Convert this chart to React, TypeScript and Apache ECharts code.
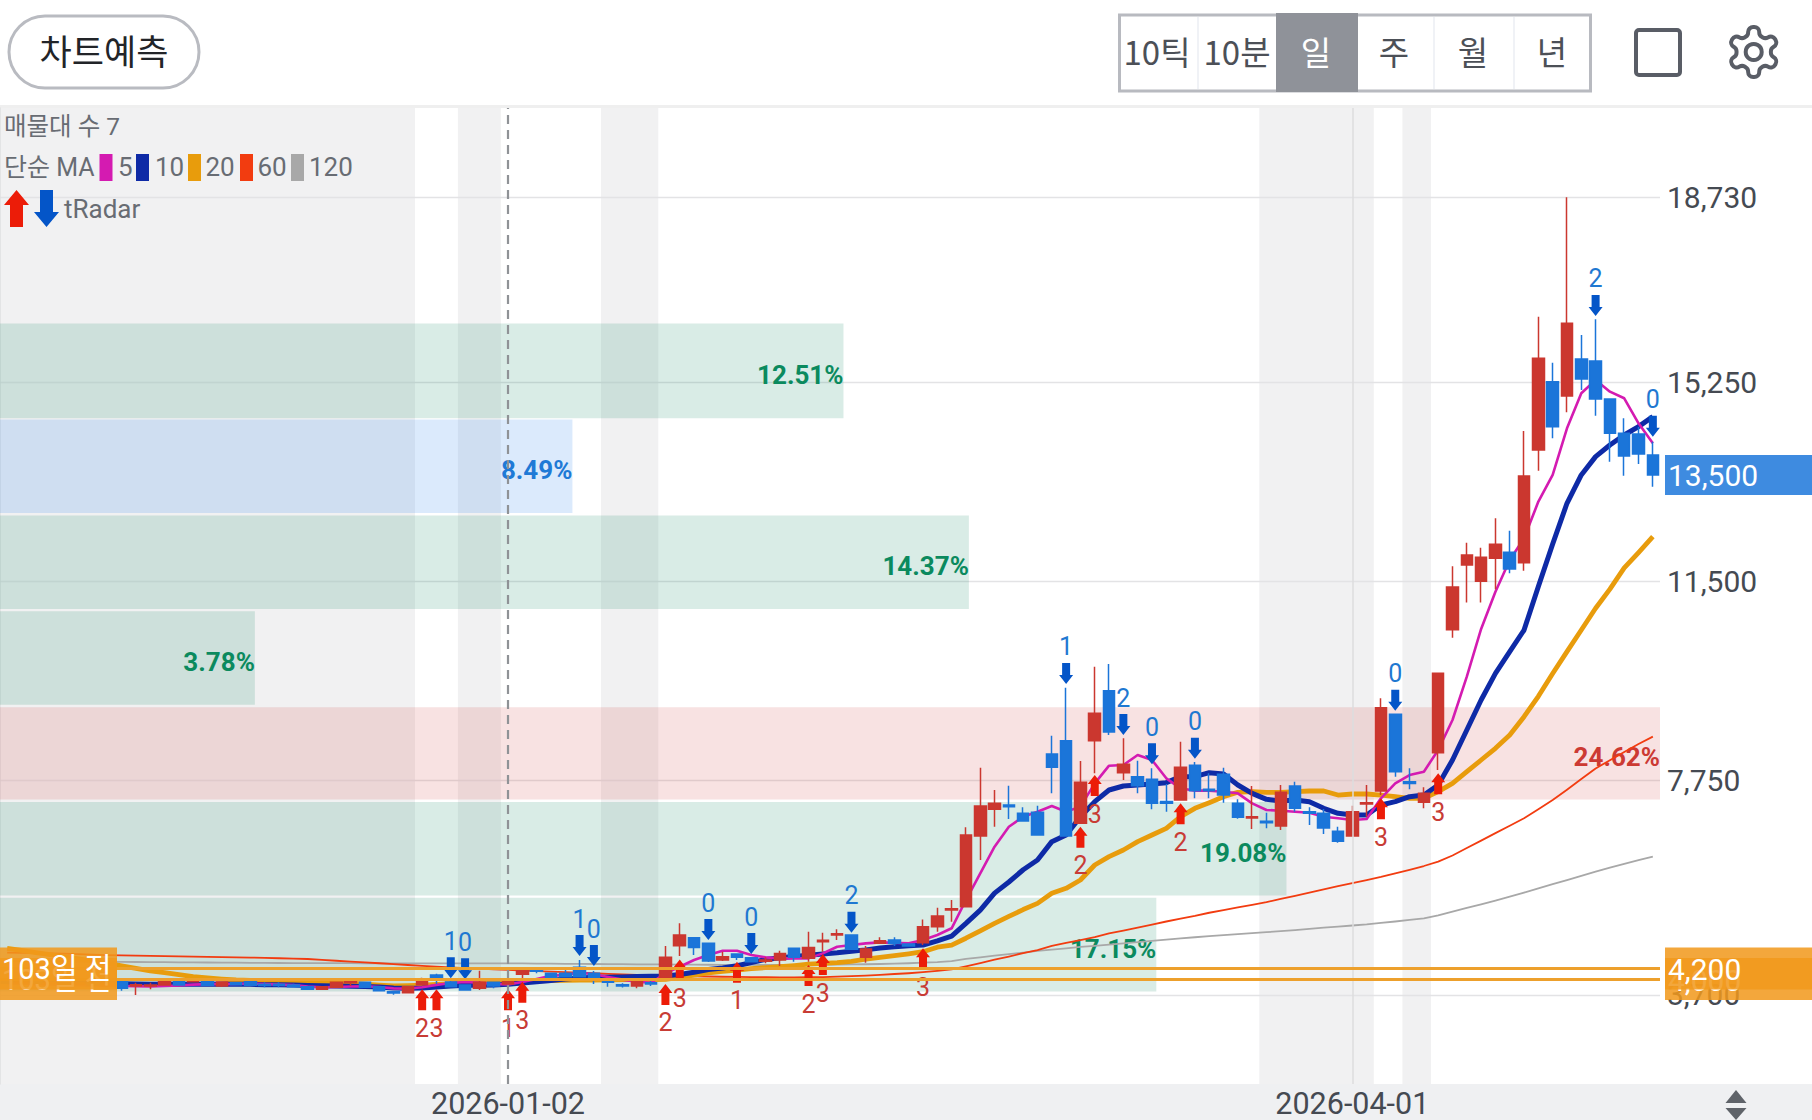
import React, { useEffect, useRef } from "react";
import * as echarts from "echarts";

const categories = [
  "2025-11-11","2025-11-12","2025-11-13","2025-11-14","2025-11-17","2025-11-18","2025-11-19","2025-11-20","2025-11-21","2025-11-24","2025-11-25","2025-11-26","2025-11-27","2025-11-28",
  "2025-12-01","2025-12-02","2025-12-03","2025-12-04","2025-12-05","2025-12-08","2025-12-09","2025-12-10","2025-12-11","2025-12-12","2025-12-15","2025-12-16","2025-12-17","2025-12-18","2025-12-19","2025-12-22","2025-12-23","2025-12-24","2025-12-26","2025-12-29","2025-12-30",
  "2026-01-02","2026-01-05","2026-01-06","2026-01-07","2026-01-08","2026-01-09","2026-01-12","2026-01-13","2026-01-14","2026-01-15","2026-01-16","2026-01-19","2026-01-20","2026-01-21","2026-01-22","2026-01-23","2026-01-26","2026-01-27","2026-01-28","2026-01-29","2026-01-30",
  "2026-02-02","2026-02-03","2026-02-04","2026-02-05","2026-02-06","2026-02-09","2026-02-10","2026-02-11","2026-02-12","2026-02-13","2026-02-19","2026-02-20","2026-02-23","2026-02-24","2026-02-25","2026-02-26","2026-02-27",
  "2026-03-03","2026-03-04","2026-03-05","2026-03-06","2026-03-09","2026-03-10","2026-03-11","2026-03-12","2026-03-13","2026-03-16","2026-03-17","2026-03-18","2026-03-19","2026-03-20","2026-03-23","2026-03-24","2026-03-25","2026-03-26","2026-03-27","2026-03-30","2026-03-31",
  "2026-04-01","2026-04-02","2026-04-03","2026-04-06","2026-04-07","2026-04-08","2026-04-09","2026-04-10","2026-04-13","2026-04-14","2026-04-15","2026-04-16","2026-04-17","2026-04-20","2026-04-21","2026-04-22","2026-04-23","2026-04-24","2026-04-27","2026-04-28","2026-04-29","2026-04-30",
];

// open, close, low, high
const candles = [
  [3950,3920,3905,3965],[3925,3945,3915,3960],[3950,3915,3900,3960],[3915,3935,3905,3945],[3935,3900,3890,3945],[3900,3925,3890,3935],[3925,3890,3880,3935],[3890,3915,3880,3925],
  [3951,3825,3781,3951],[3870,3895,3699,3932],[3868,3890,3806,3932],[3888,3951,3880,3970],[3951,3888,3880,3951],[3951,3982,3940,3990],[3951,3882,3875,3951],[3869,3944,3850,3944],
  [3932,3894,3890,3932],[3951,3882,3870,3951],[3900,3880,3844,3938],[3900,3880,3844,3938],[3888,3856,3840,3910],[3856,3806,3800,3856],[3806,3856,3800,3860],[3844,3938,3844,3950],
  [3930,3955,3869,4007],[3938,3844,3840,3938],[3856,3781,3770,3856],[3762,3736,3706,3775],[3743,3856,3743,3856],[3894,3982,3880,4026],[4076,4013,3907,4100],[3944,3856,3840,3995],
  [3888,3794,3790,3888],[3825,3938,3794,4158],[3938,3869,3825,3938],[3907,3963,3900,3975],[4089,4158,4013,4158],[4175,4145,4108,4190],[4108,4032,4020,4120],[4108,4045,4040,4170],
  [4221,4045,4040,4359],[4108,4013,3907,4150],[3965,3940,3856,3980],[3895,3870,3840,3920],[3869,3951,3825,3951],[3930,3905,3869,3982],[4013,4409,4013,4623],[4629,4830,4434,5050],
  [4780,4597,4453,4780],[4673,4340,4320,4673],[4359,4422,4340,4516],[4472,4409,4359,4472],[4403,4327,4320,4403],[4335,4358,4296,4409],[4359,4484,4246,4535],[4579,4409,4327,4579],
  [4390,4597,4327,4893],[4705,4730,4516,4874],[4830,4855,4736,4937],[4830,4560,4560,4830],[4409,4566,4309,4623],[4673,4723,4673,4786],[4736,4673,4623,4786],[4660,4623,4620,4660],
  [4685,4987,4641,5125],[4987,5188,4893,5345],[5300,5327,5081,5489],[5365,6716,5365,6860],[6697,7262,6244,7985],[7199,7312,6872,7564],[7280,7250,7017,7645],[7124,6979,6979,7237],
  [7143,6715,6715,7268],[8242,7991,7501,8588],[8494,6697,6697,9493],[6935,7708,6935,8110],[8494,9009,7878,9888],[9436,8657,8600,9939],[7890,8047,7752,8538],[7815,7645,7501,8117],
  [7765,7312,7199,7972],[7345,7312,7155,7677],[7375,7991,7375,8475],[8029,7551,7407,8091],[7580,7550,7407,7878],[7859,7469,7325,7985],[7312,7048,7023,7388],[7035,7060,6829,7639],
  [6975,6945,6841,7136],[6885,7520,6810,7658],[7639,7218,7155,7721],[7155,7125,6904,7237],[7124,6847,6734,7206],[6785,6596,6571,6872],[6697,7155,6697,7268],[7300,7325,7061,7658],
  [7545,9116,7469,9292],[8990,7909,7815,8990],[7718,7688,7576,7972],[7331,7501,7218,7614],[8267,9763,7941,9763],[10584,11390,10432,11782],[11805,11994,11100,12226],[11500,11950,11100,12132],
  [11931,12195,11347,12685],[12044,11730,11648,12452],[11849,13483,11698,14331],[13973,15701,13583,16486],[15261,14413,14193,15619],[14991,16360,14683,18735],[15688,15311,15104,16140],[15650,14934,14620,16436],
  [14934,14287,13753,14934],[14287,13860,13489,14570],[14274,13897,13709,14413],[13879,13502,13282,14130],
];

const ma5 = [3920,3915,3905,3900,3890,3885,3880,3875,3870,
  3865,3862,3868,3880,3895,3905,3905,3910,3915,3905,3895,3885,3860,3845,3850,3860,3865,3850,
  3825,3820,3845,3890,3925,3945,3930,3910,3900,
  3945,4000,4060,4080,4120,4090,4040,3990,3950,3930,
  4107,4233,4359,4453,4535,4535,4453,4409,4390,4390,4390,4484,4610,4641,4673,4692,4685,4673,4736,4830,4957,
  5490,5993,6496,6872,7061,7155,7262,7155,7250,7689,8022,8035,8223,8129,7784,7595,7551,7551,7532,7501,7312,7187,7174,7155,7136,7061,7030,6998,7017,7407,7689,7846,7909,8318,8883,9700,10600,11300,11900,12308,13000,13502,14381,15041,15292,15072,14947,14475,14098];

const ma10 = [3960,3950,3945,3940,3935,3930,3925,3915,3910,
  3905,3900,3900,3900,3900,3900,3900,3900,3900,3895,3895,3890,3880,3875,3870,3865,3860,3850,
  3830,3825,3830,3850,3870,3885,3885,3890,3900,
  3925,3950,3975,4000,4020,4032,4035,4040,4050,4055,
  4060,4085,4130,4180,4210,4250,4310,4370,4400,4425,4450,4472,4495,4525,4550,4585,4610,4630,4641,4720,4811,
  5050,5300,5620,5830,6060,6244,6590,6715,7061,7344,7564,7639,7658,7677,7702,7815,7815,7890,7865,7658,7501,7388,7356,7375,7344,7218,7124,7092,7092,7281,7344,7438,7469,7658,8129,8694,9260,9763,10171,10579,11400,12200,12968,13502,13847,14067,14255,14413,14601];

const ma20 = [4578,4540,4500,4460,4420,4380,4340,4300,4250,
  4200,4155,4120,4085,4045,4020,4000,3982,3975,3970,3965,3960,3955,3950,3940,3925,3905,3885,
  3869,3875,3885,3900,3915,3925,3935,3945,3951,
  3960,3965,3970,3975,3980,3982,3985,3988,3990,3992,
  3995,4030,4076,4115,4145,4170,4195,4215,4235,4255,4280,4295,4309,4335,4375,4410,4440,4475,4516,4600,4641,
  4770,4910,5050,5180,5310,5427,5616,5710,5867,6150,6307,6433,6590,6715,6841,7061,7218,7325,7438,7520,7532,7520,7520,7532,7545,7545,7469,7488,7488,7469,7438,7407,7407,7532,7689,7909,8129,8349,8600,8946,9330,9760,10171,10579,10990,11350,11750,12040,12339];

const ma60 = [4500,4495,4490,4485,4480,4470,4460,4453,
  4448,4443,4438,4433,4428,4424,4420,4415,4410,4405,4398,4392,4385,4378,
  4360,4345,4330,4315,4298,4280,4265,4250,4235,4222,4208,4195,4183,
  4172,4160,4150,4140,4130,4120,4110,4098,4088,4080,4072,
  4064,4058,4052,4048,4044,4040,4037,4034,4032,4032,4034,4038,4045,4055,4065,
  4080,4095,4110,4130,4155,4183,
  4240,4300,4365,4425,4490,4547,
  4625,4680,4735,4790,4861,4915,4970,5025,5085,5140,5190,5250,
  5300,5350,5400,5450,5510,5570,5630,5690,5750,5810,5867,5925,5990,6060,6131,
  6213,6330,6470,6610,6750,6890,7030,7200,7375,7570,7770,7970,8125,8280,8430,8569];

const ma120 = [4340,4338,4336,4334,4332,4330,4328,4326,4324,4322,4320,4318,4316,4314,4312,4310,4308,4306,4304,4303,4302,4301,4300,4300,4299,4298,4298,4297,4297,4296,4296,4296,4296,4296,4296,
  4296,4294,4292,4290,4288,4286,4284,4282,4280,4278,4276,4275,4274,4272,4270,4268,4267,4266,4265,4265,
  4266,4268,4270,4272,4275,4279,4284,4290,4298,4308,4320,4340,
  4380,4410,4440,4470,4500,4530,4555,4580,4605,4625,4650,4672,4695,4720,4742,4765,4788,4811,
  4830,4848,4866,4884,4902,4924,4946,4968,4990,5010,5031,5060,5085,5115,5144,
  5200,5270,5340,5410,5480,5552,5630,5710,5790,5866,5945,6025,6100,6170,6240,6307];

// index, arrow-tip price, count
const upSignals = [[29,3806,2],[30,3806,3],[35,3806,1],[36,3951,3],[46,3907,2],[47,4371,3],[51,4327,1],[56,4265,2],[57,4472,3],[64,4579,3],[75,6872,2],[76,7846,3],[82,7312,2],[96,7407,3],[100,7878,3]];
const downSignals = [[31,4013,1],[32,3995,0],[40,4434,1],[41,4246,0],[49,4736,0],[52,4472,0],[59,4874,2],[74,9562,1],[78,8600,2],[80,8047,0],[83,8154,0],[97,9059,0],[111,16499,2],[115,14224,0]];

// non-session shading: first and last candle index
const shadedRanges = [[0,28],[32,34],[42,45],[88,95],[98,99]];

// volume profile
const profileLow = [14570,12784,10976,9169,7383,5575,3767];
const profileHigh = [16356,14548,12740,10933,9125,7339,5531];
const profilePct = [12.51,8.49,14.37,3.78,24.62,19.08,17.15];
const profileKind = ["volume","current","volume","volume","max","volume","volume"];

const yTicks = [3700,7750,11500,15250,18730];
const priceLines = [4000,4200];
const lastPrice = 13500;
const dateTicks = ["2026-01-02","2026-04-01"];
const segments = ["10틱","10분","일","주","월","년"];
const legendMA = ["5","10","20","60","120"];

const FONT = "Roboto, 'Noto Sans CJK KR', sans-serif";
const KFONT = "'Noto Sans CJK KR', Roboto, sans-serif";
const INK = "#454a52";
const LEGEND_INK = "#686c73";
const RED = "#cb372f";
const BLUE = "#1b75d9";
const ARROW_RED = "#ec1c08";
const ARROW_BLUE = "#0455c8";
const MA_COLORS = ["#d41bb1", "#0e2aa6", "#e89c0c", "#f23c10", "#a8a8a8"];
const KIND_STYLE: any = {
  volume: { fill: "rgba(0,130,90,0.15)", text: "#0b8a5e" },
  current: { fill: "rgba(40,130,235,0.17)", text: "#1f7ad6" },
  max: { fill: "rgba(205,50,50,0.14)", text: "#cc3a33" },
};

const GEAR = "M12.22 2h-.44a2 2 0 0 0-2 2v.18a2 2 0 0 1-1 1.73l-.43.25a2 2 0 0 1-2 0l-.15-.08a2 2 0 0 0-2.73.73l-.22.38a2 2 0 0 0 .73 2.73l.15.1a2 2 0 0 1 1 1.72v.51a2 2 0 0 1-1 1.74l-.15.09a2 2 0 0 0-.73 2.73l.22.38a2 2 0 0 0 2.73.73l.15-.08a2 2 0 0 1 2 0l.43.25a2 2 0 0 1 1 1.73V20a2 2 0 0 0 2 2h.44a2 2 0 0 0 2-2v-.18a2 2 0 0 1 1-1.73l.43-.25a2 2 0 0 1 2 0l.15.08a2 2 0 0 0 2.73-.73l.22-.39a2 2 0 0 0-.73-2.73l-.15-.08a2 2 0 0 1-1-1.74v-.5a2 2 0 0 1 1-1.74l.15-.09a2 2 0 0 0 .73-2.73l-.22-.38a2 2 0 0 0-2.73-.73l-.15.08a2 2 0 0 1-2 0l-.43-.25a2 2 0 0 1-1-1.73V4a2 2 0 0 0-2-2z";
echarts.graphic.registerShape("gear", echarts.graphic.extendPath(GEAR as any, {}) as any);

function arrowPoints(x: number, tipY: number, dir: number, w = 14, shaft = 8, head = 9, len = 21) {
  return [
    [x, tipY],
    [x + w / 2, tipY + dir * head],
    [x + shaft / 2, tipY + dir * head],
    [x + shaft / 2, tipY + dir * len],
    [x - shaft / 2, tipY + dir * len],
    [x - shaft / 2, tipY + dir * head],
    [x - w / 2, tipY + dir * head],
  ];
}

function signalRender(dir: number, fill: string, textFill: string, textOffset: number) {
  return (_p: any, api: any) => {
    const [x, y] = api.coord([api.value(0), api.value(1)]);
    return {
      type: "group",
      children: [
        { type: "polygon", shape: { points: arrowPoints(x, y, dir) }, style: { fill } },
        {
          type: "text",
          style: {
            text: String(api.value(2)), x, y: y + textOffset,
            align: "center", verticalAlign: "middle", fill: textFill, font: `25px ${FONT}`,
          },
        },
      ],
    };
  };
}

function tagRender(left: number, width: number, fill: string, textX: number, label: (v: number) => string, font: string, halfH = 21, dy = 1) {
  return (_p: any, api: any) => {
    const v = api.value(1);
    const y = api.coord([0, v])[1];
    return {
      type: "group",
      children: [
        { type: "rect", shape: { x: left, y: y - halfH, width, height: halfH * 2 }, style: { fill } },
        {
          type: "text",
          style: { text: label(v), x: textX, y: y + dy, align: "left", verticalAlign: "middle", fill: "#ffffff", font },
        },
      ],
    };
  };
}

function lineSeries(name: string, data: number[], color: string, width: number) {
  return {
    type: "line", name, data, z: 3, symbol: "none", silent: true, smooth: false,
    lineStyle: { color, width, join: "round" },
  };
}

function buildGraphic() {
  const g: any[] = [];
  const txt = (text: string, x: number, y: number, fill: string, font: string, align = "left") =>
    g.push({ type: "text", z: 100, x, y, style: { text, fill, font, align, verticalAlign: "middle" } });

  g.push({ type: "rect", z: -1, shape: { x: 0, y: 1084, width: 1812, height: 36 }, style: { fill: "#eff0f2" } });
  g.push({ type: "rect", z: -1, shape: { x: 0, y: 105, width: 1812, height: 3 }, style: { fill: "#efefef" } });

  // prediction button
  g.push({ type: "rect", z: 100, shape: { x: 9, y: 16, width: 190, height: 72, r: 36 }, style: { fill: "#fff", stroke: "#b9bbc1", lineWidth: 3 } });
  txt("차트예측", 104, 49, "#222428", `400 35px ${KFONT}`, "center");

  // period selector
  g.push({ type: "rect", z: 100, shape: { x: 1119.5, y: 15, width: 471, height: 76 }, style: { fill: "#fff", stroke: "#b8bac0", lineWidth: 3 } });
  g.push({ type: "rect", z: 100, shape: { x: 1276, y: 13, width: 82, height: 79 }, style: { fill: "#8f9299" } });
  [1197, 1433, 1513].forEach((x) =>
    g.push({ type: "rect", z: 100, shape: { x, y: 17, width: 2, height: 72 }, style: { fill: "#f0f2f6" } })
  );
  const centres = [1157, 1237, 1316, 1394, 1473, 1552];
  segments.forEach((s, i) => txt(s, centres[i], 51, i === 2 ? "#ffffff" : "#4c5057", `33px ${KFONT}`, "center"));

  // icons
  g.push({ type: "rect", z: 100, shape: { x: 1636, y: 30, width: 44, height: 45, r: 3 }, style: { fill: "#fff", stroke: "#595d66", lineWidth: 4 } });
  g.push({ type: "gear", z: 100, x: 1723.7, y: 22, scaleX: 2.5, scaleY: 2.5, style: { fill: "none", stroke: "#595d66", lineWidth: 1.6 } });
  g.push({ type: "circle", z: 100, shape: { cx: 1753.7, cy: 52, r: 8 }, style: { fill: "none", stroke: "#595d66", lineWidth: 4 } });

  // legend
  txt("매물대 수 7", 4, 126, LEGEND_INK, `24.5px ${FONT}`);
  txt("단순 MA", 4, 167, LEGEND_INK, `25px ${FONT}`);
  const swatchX = [99.5, 136, 188, 240, 291];
  const labelX = [118, 155, 205.5, 257.5, 309];
  legendMA.forEach((m, i) => {
    g.push({ type: "rect", z: 100, shape: { x: swatchX[i], y: 154, width: 13, height: 27 }, style: { fill: MA_COLORS[i] } });
    txt(m, labelX[i], 167, LEGEND_INK, `26px ${FONT}`);
  });
  g.push({ type: "polygon", z: 100, shape: { points: arrowPoints(16.5, 190, 1, 25, 13, 15, 37) }, style: { fill: ARROW_RED } });
  g.push({ type: "polygon", z: 100, shape: { points: arrowPoints(46.5, 227, -1, 25, 13, 15, 37) }, style: { fill: ARROW_BLUE } });
  txt("tRadar", 64, 209, LEGEND_INK, `26px ${FONT}`);

  // sort handle
  g.push({ type: "polygon", z: 100, shape: { points: [[1736, 1090], [1746.5, 1103], [1725.5, 1103]] }, style: { fill: "#5f6369" } });
  g.push({ type: "polygon", z: 100, shape: { points: [[1736, 1120], [1746.5, 1108], [1725.5, 1108]] }, style: { fill: "#5f6369" } });
  return g;
}

export default function App() {
  const ref = useRef<HTMLDivElement>(null);
  useEffect(() => {
    const chart = echarts.init(ref.current!, undefined, { renderer: "svg" });
    const tagFont = `30px ${FONT}`;
    const option: any = {
      animation: false,
      backgroundColor: "#ffffff",
      textStyle: { fontFamily: FONT },
      graphic: { elements: buildGraphic() },
      grid: { left: 0, right: 152, top: 108, height: 976, containLabel: false },
      xAxis: [
        {
          type: "category", data: categories, boundaryGap: true,
          axisLine: { show: false }, axisTick: { show: false }, splitLine: { show: false },
          axisLabel: {
            interval: (idx: number, v: string) => dateTicks.includes(v),
            color: INK, fontSize: 30.5, margin: 4, lineHeight: 31, fontFamily: FONT, hideOverlap: false,
          },
        },
        { type: "value", min: 0, max: 24.62, show: false, position: "top" },
      ],
      yAxis: {
        type: "value", position: "right", min: 2022, max: 20419, scale: true, z: 1,
        axisLine: { show: true, lineStyle: { color: "#dedfe1", width: 1.5 } },
        axisTick: { show: false, customValues: yTicks },
        splitLine: { show: true, lineStyle: { color: "#e3e3e5", width: 1.3 } },
        axisLabel: {
          customValues: yTicks, color: INK, fontSize: 30, margin: 7, fontFamily: FONT,
          formatter: (v: number) => v.toLocaleString("en-US"),
        },
      },
      series: [
        {
          type: "custom", name: "shade", z: 0, silent: true, xAxisIndex: 0, yAxisIndex: 0,
          data: shadedRanges, encode: { x: 0 },
          renderItem: (p: any, api: any) => {
            const band = api.size([1, 0])[0];
            const x0 = api.coord([api.value(0), 0])[0] - band / 2;
            const x1 = api.coord([api.value(1), 0])[0] + band / 2;
            return { type: "rect", shape: { x: x0, y: p.coordSys.y, width: x1 - x0, height: p.coordSys.height }, style: { fill: "#f1f1f2" } };
          },
        },
        {
          type: "custom", name: "매물대", z: 2, silent: true, xAxisIndex: 1, yAxisIndex: 0,
          data: profilePct.map((v, i) => [v, profileLow[i], profileHigh[i]]),
          encode: { x: 0, y: [1, 2] },
          renderItem: (p: any, api: any) => {
            const a = api.coord([0, api.value(2)]);
            const b = api.coord([api.value(0), api.value(1)]);
            const st = KIND_STYLE[profileKind[p.dataIndex]];
            return {
              type: "group",
              children: [
                { type: "rect", shape: { x: a[0], y: a[1], width: b[0] - a[0], height: b[1] - a[1] }, style: { fill: st.fill } },
                {
                  type: "text",
                  style: {
                    text: api.value(0).toFixed(2) + "%", x: b[0], y: (a[1] + b[1]) / 2 + 4,
                    align: "right", verticalAlign: "middle", fill: st.text, font: `700 26px ${FONT}`,
                  },
                },
              ],
            };
          },
        },
        lineSeries("MA120", ma120, MA_COLORS[4], 1.8),
        lineSeries("MA60", ma60, MA_COLORS[3], 1.8),
        lineSeries("MA20", ma20, MA_COLORS[2], 4.8),
        lineSeries("MA10", ma10, MA_COLORS[1], 5),
        lineSeries("MA5", ma5, MA_COLORS[0], 2.6),
        {
          type: "candlestick", name: "price", z: 4, silent: true, data: candles, barWidth: 12,
          itemStyle: { color: RED, color0: BLUE, borderColor: RED, borderColor0: BLUE, borderWidth: 1.5 },
          markLine: {
            silent: true, symbol: "none", z: 6, animation: false,
            label: { show: false },
            data: [
              { xAxis: dateTicks[1], lineStyle: { color: "#dcdcde", width: 1.5, type: "solid" } },
              { xAxis: dateTicks[0], lineStyle: { color: "#8f9296", width: 2.2, type: [9, 6] } },
              ...priceLines.map((v) => ({ yAxis: v, lineStyle: { color: "#eda02c", width: 3, type: "solid" } })),
            ],
          },
        },
        {
          type: "custom", name: "tRadar up", z: 5, silent: true, data: upSignals, encode: { x: 0, y: 1 },
          renderItem: signalRender(1, ARROW_RED, "#c83c35", 39),
        },
        {
          type: "custom", name: "tRadar down", z: 5, silent: true, data: downSignals, encode: { x: 0, y: 1 },
          renderItem: signalRender(-1, ARROW_BLUE, "#1f78d1", -37),
        },
        {
          type: "custom", name: "price tags", z: 7, silent: true, data: priceLines.map((v) => [0, v]),
          renderItem: tagRender(1665, 147, "rgba(241,152,28,0.86)", 1668, (v) => v.toLocaleString("en-US"), tagFont),
        },
        {
          type: "custom", name: "age tags", z: 7, silent: true, data: priceLines.map((v) => [0, v]),
          renderItem: tagRender(0, 117, "rgba(241,152,28,0.86)", 2, () => "103일 전", `29px ${FONT}`),
        },
        {
          type: "custom", name: "last tag", z: 7, silent: true, data: [[0, lastPrice]],
          renderItem: tagRender(1665, 147, "#3e8be0", 1668, (v) => v.toLocaleString("en-US"), tagFont, 20, 0),
        },
      ],
    };
    chart.setOption(option);
    return () => chart.dispose();
  }, []);
  return <div ref={ref} style={{ position: "absolute", left: 0, top: 0, width: 1812, height: 1120 }} />;
}
